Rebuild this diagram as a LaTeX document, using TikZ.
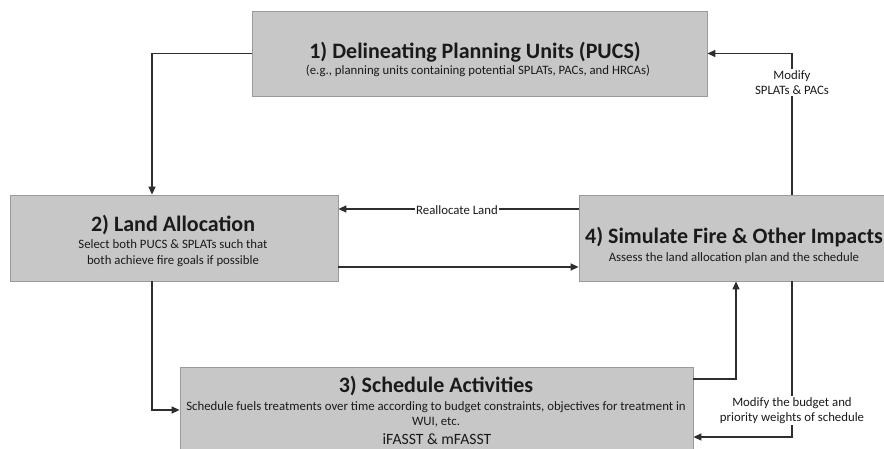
\documentclass[tikz,border=0pt]{standalone}
\usepackage{fontspec}
\setmainfont{Carlito}
\usetikzlibrary{arrows.meta,shadows}
\definecolor{boxfill}{HTML}{C7C7C7}
\definecolor{boxline}{HTML}{9A9A9A}
\definecolor{ink}{HTML}{1A1A1A}
\definecolor{wire}{HTML}{2E2E2E}
\tikzset{
  box/.style={draw=boxline, line width=0.8pt, fill=boxfill, inner sep=0pt,
    drop shadow={shadow xshift=1.2pt, shadow yshift=-1.2pt, opacity=0.35, fill=black!60}},
  ttl/.style={text=ink, font=\bfseries\fontsize{22}{24}\selectfont, inner sep=0pt},
  sub/.style={text=ink, font=\fontsize{12.8}{15}\selectfont, inner sep=0pt, align=center},
  lbl/.style={text=ink, font=\fontsize{12.8}{15}\selectfont, inner sep=1.5pt, fill=white, align=center},
  arr/.style={draw=wire, line width=1.3pt, -{Triangle[length=8pt,width=7pt]}},
}
\begin{document}
\begin{tikzpicture}[x=1pt,y=-1pt]
\useasboundingbox (0,0) rectangle (884,449);
% boxes
\node[box, minimum width=455pt, minimum height=85pt] (b1) at (479.5,53.5) {};
\node[box, minimum width=328pt, minimum height=86pt] (b2) at (174,238) {};
\node[box, minimum width=312pt, minimum height=86pt] (b4) at (735,238) {};
\node[box, minimum width=513pt, minimum height=86pt] (b3) at (436.5,410) {};
% texts
\node[ttl] (t1) at (475,52.5) {1) Delineating Planning Units (PUCS)};
\node[sub] (s1) at (478,71) {(e.g., planning units containing potential SPLATs, PACs, and HRCAs)};
\node[ttl] (t2) at (173,225) {2) Land Allocation};
\node[sub, font=\fontsize{12.8}{16}\selectfont] (s2) at (173,253.5) {Select both PUCS \& SPLATs such that\\both achieve fire goals if possible};
\node[ttl] (t4) at (734,237) {4) Simulate Fire \& Other Impacts};
\node[sub] (s4) at (734,258) {Assess the land allocation plan and the schedule};
\node[ttl] (t3) at (436,386) {3) Schedule Activities};
\node[sub] (s3) at (436,414) {Schedule fuels treatments over time according to budget constraints, objectives for treatment in\\WUI, etc.};
\node[text=ink, font=\fontsize{15.7}{18}\selectfont, inner sep=0pt] (f3) at (437,439) {iFASST \& mFASST};
% connectors
\draw[arr] (b1.west) -| ([xshift=-22pt]b2.north);
\draw[arr] ([xshift=-22pt]b2.south) |- (b3.west);
\draw[arr] ([yshift=31pt]b3.east) -| ([xshift=1pt]b4.south);
\draw[arr] ([xshift=57pt]b4.south) |- ([yshift=-27pt]b3.east);
\draw[arr] ([xshift=57pt]b4.north) |- (b1.east);
\draw[arr] ([yshift=29pt]b4.west) -- ([yshift=29pt]b2.east);
\draw[arr] ([yshift=-29pt]b2.east) -- ([yshift=-29pt]b4.west);
% labels
\node[lbl] (l1) at (457,210) {Reallocate Land};
\node[lbl] (l2) at (792,82.5) {Modify\\SPLATs \& PACs};
\node[lbl] (l3) at (792,410.5) {Modify the budget and\\priority weights of schedule};
\end{tikzpicture}
\end{document}
